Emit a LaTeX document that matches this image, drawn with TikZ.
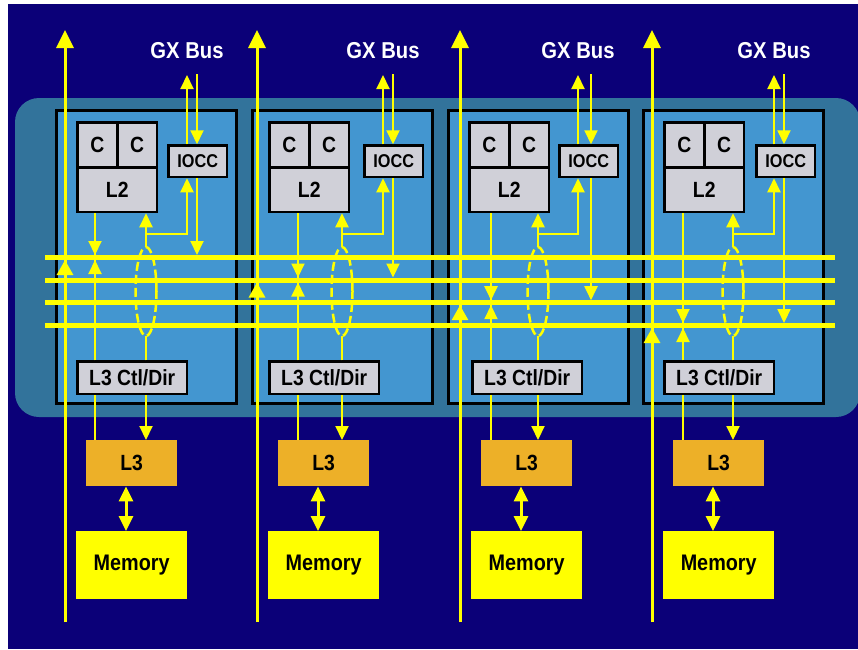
\documentclass[tikz,border=0pt]{standalone}
\usepackage{fontspec}
\setmainfont[FakeStretch=0.88]{Liberation Sans}
\usetikzlibrary{arrows.meta}
\definecolor{navy}{RGB}{11,0,120}
\definecolor{panelc}{RGB}{50,115,155}
\definecolor{modblue}{RGB}{67,150,208}
\definecolor{boxgray}{RGB}{208,208,216}
\definecolor{lthreec}{RGB}{237,176,40}
\definecolor{ylw}{RGB}{255,255,0}
\tikzset{
  modulebox/.style={draw=black, line width=3pt, fill=modblue, inner sep=0pt, outer sep=0pt, anchor=north west, minimum width=180pt, minimum height=293pt},
  graybox/.style={draw=black, line width=2.5pt, fill=boxgray, inner sep=0pt, anchor=north west, font=\bfseries\fontsize{22}{26}\selectfont},
  iofont/.style={font=\bfseries\fontsize{18.5}{22}\selectfont},
  lthreebox/.style={fill=lthreec, inner sep=0pt, anchor=north west, minimum width=91pt, minimum height=46pt, font=\bfseries\fontsize{22}{26}\selectfont},
  membox/.style={fill=ylw, inner sep=0pt, anchor=north west, minimum width=111pt, minimum height=68pt, font=\bfseries\fontsize{22.5}{27}\selectfont},
  gxlabel/.style={text=white, inner sep=0pt, font=\bfseries\fontsize{23}{27}\selectfont},
  thinl/.style={draw=ylw, line width=2pt},
  arr/.style={thinl, -{Triangle[length=14pt,width=13pt]}},
  bigline/.style={draw=ylw, line width=3pt, -{Triangle[length=18pt,width=17pt]}},
  bigtip/.style={draw=ylw, line width=3pt, -{Triangle[length=15pt,width=16pt]}},
  busline/.style={draw=ylw, line width=5pt},
  ellip/.style={draw=ylw, line width=2.5pt, dash pattern=on 9pt off 4pt},
  dbl/.style={draw=ylw, line width=3pt, {Triangle[length=15pt,width=14pt]}-{Triangle[length=15pt,width=14pt]}}
}
\begin{document}
\begin{tikzpicture}[x=1pt,y=-1pt]
\useasboundingbox (0,0) rectangle (858,649);
\clip (0,0) rectangle (858,649);
\fill[white] (0,0) rectangle (858,649);
\fill[navy] (8,4) rectangle (858,649);
\fill[panelc, rounded corners=24pt] (15,98) rectangle (860,417);
% modules and buses
\foreach \i/\mx/\yy in {1/55/257.5, 2/251/280, 3/447/302.7, 4/642/325.5}{
  \node[modulebox] (mod\i) at ({\mx+1.5},110.5) {};
  \coordinate (busL\i) at (45,\yy);
  \coordinate (busR\i) at (835,\yy);
  \coordinate (bt\i) at (0,{\yy-2.5});
  \coordinate (bb\i) at (0,{\yy+2.5});
}
\foreach \i in {1,2,3,4}{
  \draw[busline] (busL\i) -- (busR\i);
}
\foreach \i/\cx/\ox/\gu/\gd/\bx/\lx/\px/\kx/\tx/\dx in {
  1/75/166/187/197/65/95/146/86/75/126,
  2/267/362/383/393/257/298/342/278/267/318,
  3/467/557/578/591/460/491/538/481/470/521,
  4/662/754/774/784/652/683/733/673/662/713}{
  % boxes
  \node[graybox, minimum width=39.75pt, minimum height=44.75pt] (ca\i) at ({\cx+1.25},121.25) {C};
  \node[graybox, minimum width=39.75pt, minimum height=44.75pt] (cb\i) at ({\cx+41},121.25) {C};
  \node[graybox, minimum width=79.5pt, minimum height=44.75pt] (ltwo\i) at ({\cx+1.25},166) {L2};
  \node[graybox, iofont, minimum width=58.5pt, minimum height=31.5pt] (io\i) at ({\ox+1.25},144.25) {IOCC};
  \node[graybox, minimum width=109.5pt, minimum height=32.5pt] (ctl\i) at ({\tx+1.25},360.25) {L3 Ctl/Dir};
  \node[lthreebox] (lth\i) at (\kx,440) {L3};
  \node[membox] (mem\i) at ({\tx+1},531) {Memory};
  \node[gxlabel] (gx\i) at (\gu,51) {GX Bus};
  % coordinates
  \coordinate (btop\i) at (\bx,30);
  \coordinate (bbot\i) at (\bx,622);
  \coordinate (gtop\i) at (\gu,75);
  \coordinate (gdtop\i) at (\gd,74);
  \coordinate (lxc\i) at (\lx,0);
  \coordinate (ell\i) at (\px,291.5);
  \coordinate (etop\i) at (\px,247);
  \coordinate (ebot\i) at (\px,336);
  \coordinate (br\i) at (\px,234);
  \coordinate (dxc\i) at (\dx,0);
  % big vertical line
  \draw[bigline] (bbot\i) -- (btop\i);
  \draw[bigtip] (bbot\i) -- (bbot\i |- bb\i);
  % GX bus
  \draw[arr] (io\i.north -| gtop\i) -- (gtop\i);
  \draw[arr] (gdtop\i) -- (io\i.north -| gdtop\i);
  \draw[arr] (io\i.south -| gdtop\i) -- (gdtop\i |- bt\i);
  % L2 line
  \draw[thinl] (ltwo\i.south -| lxc\i) -- (ctl\i.north -| lxc\i);
  \draw[arr] (ltwo\i.south -| lxc\i) -- (lxc\i |- bt\i);
  \draw[arr] (ctl\i.north -| lxc\i) -- (lxc\i |- bb\i);
  \draw[thinl] (ctl\i.south -| lxc\i) -- (lth\i.north -| lxc\i);
  % path through ellipse
  \draw[arr] (etop\i) -- (ltwo\i.south -| etop\i);
  \draw[arr] (br\i) -| (io\i.south -| gtop\i);
  \draw[thinl] (ctl\i.north -| ebot\i) -- (ebot\i);
  \draw[ellip] (ell\i) ellipse [x radius=10.5pt, y radius=44.5pt];
  \draw[arr] (ctl\i.south -| ebot\i) -- (lth\i.north -| ebot\i);
  % L3 - memory
  \draw[dbl] (lth\i.south -| dxc\i) -- (mem\i.north -| dxc\i);
}
\end{tikzpicture}
\end{document}
